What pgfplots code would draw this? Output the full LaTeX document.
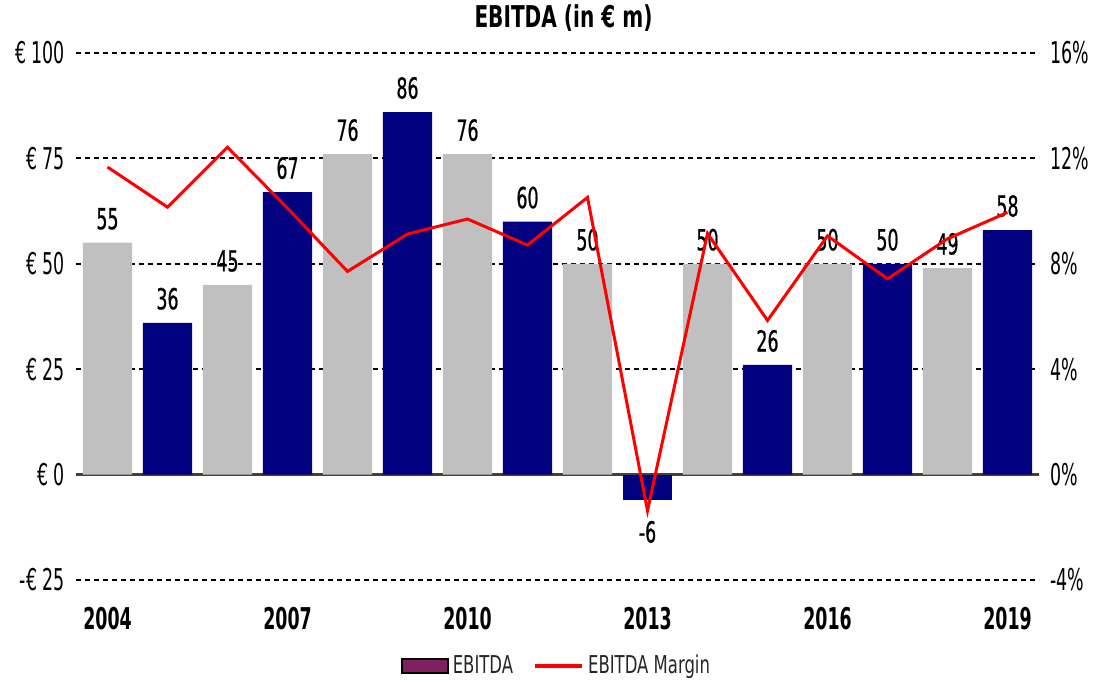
\documentclass[border=0pt]{standalone}
\usepackage{pgfplots}
\pgfplotsset{compat=1.18}
\usepackage{fontspec}
\setmainfont{DejaVu Sans}[FakeStretch=0.58]
\newfontfamily\widefont{DejaVu Sans}[FakeStretch=0.67]
\newfontfamily\labelfont{DejaVu Sans}[FakeStretch=0.6, FakeBold=0.7]
\definecolor{barGray}{RGB}{192,192,192}
\definecolor{barNavy}{RGB}{0,0,128}
\definecolor{legPurple}{RGB}{128,32,96}
\definecolor{zeroGray}{RGB}{64,64,64}
\pgfplotsset{/pgf/number format/assume math mode=true}
\begin{document}
\begin{tikzpicture}
\path[use as bounding box] (-38pt,-52pt) rectangle (518.5pt,290pt);
\begin{axis}[
  at={(0,0)}, anchor=south west,
  scale only axis, width=481.5pt, height=263.5pt,
  xmin=2003.475, xmax=2019.525, ymin=-25, ymax=100,
  axis line style={draw=none}, major tick length=0pt,
  xtick={2004,2007,2010,2013,2016,2019},
  xticklabel style={font=\fontsize{15}{18}\selectfont\bfseries, /pgf/number format/1000 sep={}, yshift=-10pt},
  ytick={-25,25,50,75,100},
  yticklabels={-€ 25,€ 25,€ 50,€ 75,€ 100},
  extra y ticks={0}, extra y tick labels={€ 0},
  extra y tick style={major grid style={solid, draw=zeroGray, line width=1.3pt}},
  yticklabel style={font=\fontsize{15}{18}\selectfont, xshift=-2pt},
  ymajorgrids,
  major grid style={black, line width=1pt, dash pattern=on 2.5pt off 2pt},
  title={EBITDA (in € m)},
  title style={font=\widefont\bfseries\fontsize{15}{18}\selectfont, at={(0.5,1)}, anchor=south, yshift=1pt, xshift=3pt},
  bar width=0.82, 
  nodes near coords style={font=\labelfont\fontsize{14.5}{16}\selectfont, text=black},
]
\addplot[ybar, bar shift=0pt, fill=barGray, draw=none,
  nodes near coords, every node near coord/.append style={anchor=south, yshift=3pt}]
  coordinates {(2004,55) (2006,45) (2008,76) (2010,76) (2012,50) (2014,50) (2016,50) (2018,49)};
\addplot[ybar, bar shift=0pt, fill=barNavy, draw=none,
  nodes near coords, every node near coord/.append style={anchor=south, yshift=3pt}]
  coordinates {(2005,36) (2007,67) (2009,86) (2011,60) (2015,26) (2017,50) (2019,58)};
\addplot[ybar, bar shift=0pt, fill=barNavy, draw=none,
  nodes near coords, every node near coord/.append style={anchor=north, yshift=-7pt}]
  coordinates {(2013,-6)};
\end{axis}
\begin{axis}[
  at={(0,0)}, anchor=south west,
  scale only axis, width=481.5pt, height=263.5pt,
  xmin=2003.475, xmax=2019.525, ymin=-4, ymax=16,
  hide x axis, axis y line*=right, y axis line style={draw=none}, major tick length=0pt,
  ytick={-4,0,4,8,12,16},
  yticklabels={-4\%,0\%,4\%,8\%,12\%,16\%},
  yticklabel style={font=\fontsize{15}{18}\selectfont, xshift=2pt},
  legend style={at={(0.5,-0.163)}, anchor=center, draw=none, fill=none,
    font=\widefont\fontsize{12.3}{14}\selectfont, text=black!85,
    /tikz/every even column/.append style={column sep=8pt}},
  legend columns=2,
]
\addlegendimage{legend image code/.code={\draw[fill=legPurple, draw=black, line width=0.9pt] (0pt,-3.5pt) rectangle (23pt,3.5pt);}}
\addlegendentry{EBITDA}
\addplot[red, line width=1.5pt, mark=none,
  legend image code/.code={\draw[red, line width=2pt] (0pt,0pt) -- (23.5pt,0pt);}]
  coordinates {(2004,11.67) (2005,10.15) (2006,12.42) (2007,10.11) (2008,7.71) (2009,9.13) (2010,9.70) (2011,8.71) (2012,10.52) (2013,-1.37) (2014,9.15) (2015,5.85) (2016,9.06) (2017,7.43) (2018,8.95) (2019,9.95)};
\addlegendentry{EBITDA Margin}
\end{axis}
\end{tikzpicture}
\end{document}
